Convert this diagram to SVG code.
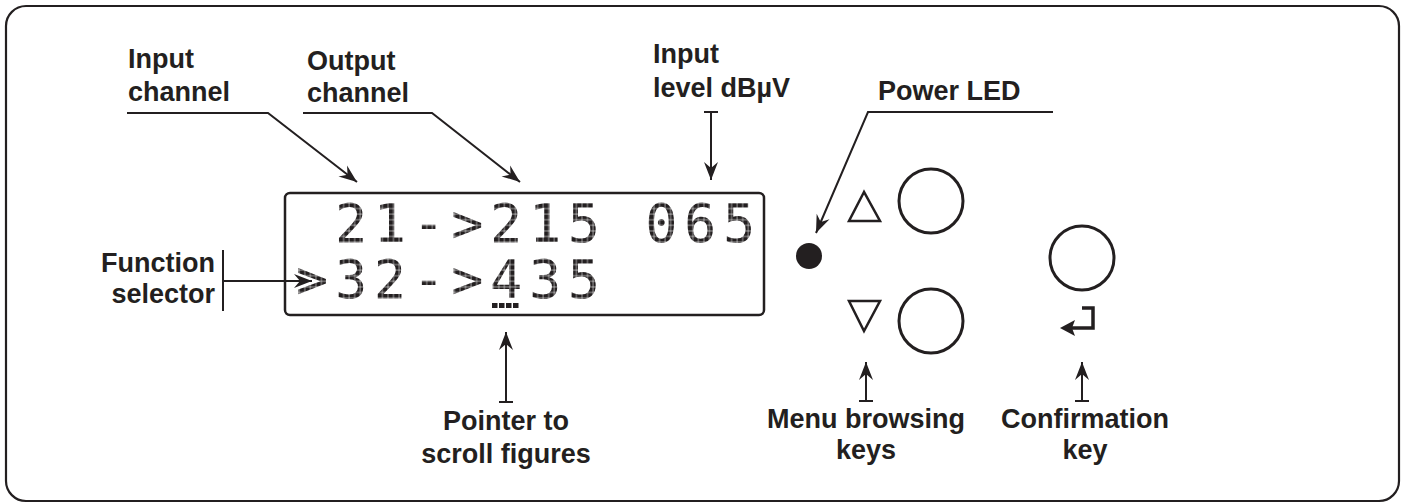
<svg xmlns="http://www.w3.org/2000/svg" width="1405" height="504" viewBox="0 0 1405 504">
<style>
.lbl{font-family:"Liberation Sans",Arial,sans-serif;font-weight:bold;font-size:27px;fill:#231f20}
.ln{fill:none;stroke:#231f20;stroke-width:2}
.lcd{font-family:"DejaVu Sans Mono","Liberation Mono",monospace;font-weight:normal;font-size:53.5px;text-anchor:middle}
</style>
<defs>
<marker id="ah" markerUnits="userSpaceOnUse" markerWidth="20" markerHeight="16" viewBox="-18 -8 19 16" refX="0" refY="0" orient="auto">
<path d="M0,0 L-18,-7 L-12,0 L-18,7 Z" fill="#231f20"/>
</marker>
<pattern id="dots1" patternUnits="userSpaceOnUse" x="338" y="203" width="5.543" height="5.57">
<rect x="0.3" y="0.3" width="5" height="5" fill="#231f20"/>
</pattern>
<pattern id="dots2" patternUnits="userSpaceOnUse" x="338" y="259" width="5.543" height="5.57">
<rect x="0.3" y="0.3" width="5" height="5" fill="#231f20"/>
</pattern>
</defs>
<rect x="6" y="6" width="1393" height="495" rx="20" fill="none" stroke="#231f20" stroke-width="2.2"/>

<g id="lcd">
<rect x="285" y="193" width="479" height="122" rx="5" fill="none" stroke="#231f20" stroke-width="2.5"/>
<text class="lcd" fill="url(#dots1)" x="351 389.8 428.6 467.4 506.2 545 583.8 622.6 661.4 700.2 739" y="242">21-&gt;215 065</text>
<text class="lcd" fill="url(#dots2)" x="312.2 351 389.8 428.6 467.4 506.2 545 583.8" y="298">&gt;32-&gt;435</text>
<g fill="#231f20">
<rect x="492" y="303" width="5.5" height="5"/>
<rect x="499" y="303" width="5.5" height="5"/>
<rect x="506" y="303" width="5.5" height="5"/>
<rect x="513" y="303" width="5.5" height="5"/>
</g>
</g>

<g id="power-led"><circle cx="809" cy="256" r="13" fill="#231f20"/></g>
<g id="key-up">
<polygon points="864,192 849,221 880,221" fill="none" stroke="#231f20" stroke-width="2.5" stroke-linejoin="miter"/>
<circle cx="931" cy="201" r="32" fill="none" stroke="#231f20" stroke-width="3"/>
</g>
<g id="key-down">
<polygon points="849,301 880,301 864,331" fill="none" stroke="#231f20" stroke-width="2.5"/>
<circle cx="931" cy="321" r="32" fill="none" stroke="#231f20" stroke-width="3"/>
</g>
<g id="key-confirm">
<circle cx="1082" cy="258" r="32" fill="none" stroke="#231f20" stroke-width="3"/>
<path d="M1082,308 H1093 V328 H1072" fill="none" stroke="#231f20" stroke-width="3.5"/>
<path d="M1060,328 L1075,320 L1072,328 L1075,336 Z" fill="#231f20"/>
</g>

<g id="labels">
<text class="lbl" x="128" y="68">Input</text>
<text class="lbl" x="128" y="101">channel</text>
<text class="lbl" x="307" y="70">Output</text>
<text class="lbl" x="307" y="102">channel</text>
<text class="lbl" x="653" y="63">Input</text>
<text class="lbl" x="653" y="97">level dBµV</text>
<text class="lbl" x="878" y="100">Power LED</text>
<text class="lbl" x="215" y="272" text-anchor="end">Function</text>
<text class="lbl" x="215" y="303" text-anchor="end">selector</text>
<text class="lbl" x="506" y="430" text-anchor="middle">Pointer to</text>
<text class="lbl" x="506" y="463" text-anchor="middle">scroll figures</text>
<text class="lbl" x="866" y="428" text-anchor="middle">Menu browsing</text>
<text class="lbl" x="866" y="459" text-anchor="middle">keys</text>
<text class="lbl" x="1085" y="428" text-anchor="middle">Confirmation</text>
<text class="lbl" x="1085" y="459" text-anchor="middle">key</text>
</g>

<g id="connectors">
<polyline class="ln" points="127,113 268,113 357,182" marker-end="url(#ah)"/>
<polyline class="ln" points="303,113 432,113 520,182" marker-end="url(#ah)"/>
<line class="ln" x1="704" y1="112" x2="718" y2="112" stroke-width="3"/>
<line class="ln" x1="711" y1="112" x2="711" y2="180" marker-end="url(#ah)"/>
<polyline class="ln" points="1053,112 868,112 816,233" marker-end="url(#ah)"/>
<line class="ln" x1="223" y1="250" x2="223" y2="311"/>
<line class="ln" x1="223" y1="281" x2="312" y2="281" marker-end="url(#ah)"/>
<line class="ln" x1="499" y1="402" x2="513" y2="402" stroke-width="3"/>
<line class="ln" x1="506" y1="402" x2="506" y2="332" marker-end="url(#ah)"/>
<line class="ln" x1="859" y1="401" x2="873" y2="401" stroke-width="3"/>
<line class="ln" x1="866" y1="401" x2="866" y2="362" marker-end="url(#ah)"/>
<line class="ln" x1="1075" y1="401" x2="1089" y2="401" stroke-width="3"/>
<line class="ln" x1="1082" y1="401" x2="1082" y2="362" marker-end="url(#ah)"/>
</g>
</svg>
